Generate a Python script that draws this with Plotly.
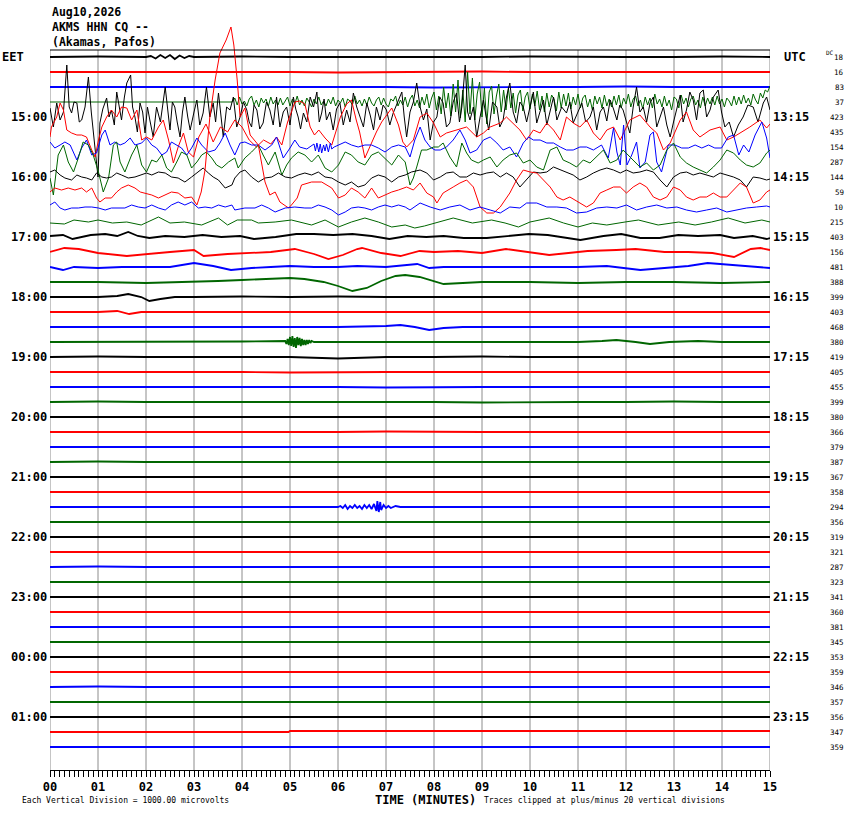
import plotly.graph_objects as go

# ---------------- data ----------------
MINUTES = list(range(16))
TICK_TEXT = ["%02d" % m for m in MINUTES]
TRACE_COLORS = ["#000000", "#ff0000", "#0000ff", "#006600"]
UNITS_PER_SPACING = 15.0   # amplitude units per trace spacing

TITLE_LINES = ["Aug10,2026", "AKMS HHN CQ --", "(Akamas, Pafos)"]
LEFT_ZONE = "EET"
RIGHT_ZONE = "UTC"
LABEL_ROWS = [4, 8, 12, 16, 20, 24, 28, 32, 36, 40, 44]
LEFT_LABELS = ["15:00", "16:00", "17:00", "18:00", "19:00", "20:00", "21:00", "22:00", "23:00", "00:00", "01:00"]
RIGHT_LABELS = ["13:15", "14:15", "15:15", "16:15", "17:15", "18:15", "19:15", "20:15", "21:15", "22:15", "23:15"]
DC_VALUES = [18, 16, 83, 37, 423, 435, 154, 287, 144, 59, 10, 215, 403, 156, 481, 388,
             399, 403, 468, 380, 419, 405, 455, 399, 380, 366, 379, 387, 367, 358, 294, 356,
             319, 321, 287, 323, 341, 360, 381, 345, 353, 359, 346, 357, 356, 347, 359]
ACTIVE_ROWS = [3, 4, 5, 6, 7, 8, 9, 10, 11]

# (minute, amplitude) readings per helicorder line
ROW_00 = [(0, 0), (1, 0.5), (2, 0), (2.1, 1), (2.2, -1.5), (2.3, 2), (2.4, -1), (2.5, 2), (2.6, -2),
          (2.7, 1.5), (2.8, -1), (2.9, 1), (3, 0), (4, 0.5), (5, 0), (6, 0), (7, -0.5), (8, 0),
          (9, 0), (10, 0.5), (11, 0), (12, 0), (13, 0), (14, 0.5), (15, 0)]
ROW_01 = list(zip(MINUTES, [0, 0, 0.5, 0, 0, 0, -0.5, 0, 0, 0.5, 0, 0, 0, 0, 0.5, 0]))
ROW_02 = list(zip(MINUTES, [0, 0, 0, 0.5, 0, 0, 0, 0, -0.5, 0, 0, 0, 0.5, 0, 0, 0]))
# green line 3: quiet part, then noisy part sampled every 0.05 min from 3.80
ROW_03_QUIET = [(0, 0), (1, 0), (2, 0.5), (3, 0), (3.5, 0)]
ROW_03_START, ROW_03_STEP = 3.8, 0.05
ROW_03_NOISE = [0, 4, -3, 5, -2, 1, -4, 3, 6, -3, 2, -5, 4, -1, 3, -4, 5, -2, 2, -3,
                4, -3, 1, 5, -4, 3, -2, 6, -3, 2, -4, 4, 0, -5, 3, -2, 5, -3, 1, -4,
                3, -2, 5, -4, 2, -1, 4, -5, 3, 1, -3, 6, -2, 2, -4, 3, -3, 5, -1, -4,
                2, 5, -3, 4, -2, -5, 3, 1, 6, -4, 2, -3, 5, -5, 3, 7, -4, 2, -6, 5,
                -3, 8, -6, 4, 10, -8, 6, -12, 15, -6, 9, -14, 18, -10, 22, -16, 12, -20, 30, -12,
                24, -18, 8, 20, -15, 14, -22, 10, 16, -12, 6, 18, -10, 12, -8, 14, -6, 9, -11, 7,
                12, -9, 5, 10, -7, 8, -4, 11, -8, 6, -10, 9, -5, 7, 3, -9, 10, -6, 8, -4,
                9, -7, 5, -3, 8, -6, 4, 7, -5, 3, -8, 6, -2, 5, -6, 7, -4, 3, -5, 6,
                -3, 7, -6, 4, -2, 8, -5, 3, 6, -4, 2, -7, 5, -3, 4, -6, 8, -2, 3, -5,
                6, -4, 2, -8, 5, 3, -6, 7, -2, 4, -5, 3, 6, -3, 2, -6, 5, -4, 4, -2,
                5, -3, 6, -2, 3, -5, 4, 1, -4, 6, -3, 5, -2, 7, -1, 4, -3, 8, 2, -2,
                9, 4, 12, 10, 16]
ROW_03 = ROW_03_QUIET + [(ROW_03_START + k * ROW_03_STEP, v) for k, v in enumerate(ROW_03_NOISE)]
ROW_04 = [(0.0, 9), (0.07, -10), (0.14, 14), (0.21, -3), (0.28, 5), (0.35, 52), (0.4, 10), (0.45, 4),
          (0.5, 15), (0.56, 14), (0.61, -5), (0.66, -3), (0.73, 10), (0.8, 40), (0.86, 5), (0.9, -13),
          (0.95, -35), (1.0, -60), (1.04, -6), (1.1, 8), (1.18, 19), (1.23, 0), (1.28, 7), (1.34, -8),
          (1.39, 25), (1.44, 10), (1.49, -3), (1.55, 20), (1.6, 34), (1.68, 42), (1.72, 10), (1.77, 0),
          (1.82, -15), (1.875, 14), (1.93, 5), (1.98, -16), (2.03, 10), (2.08, -3), (2.15, -20),
          (2.22, 10), (2.3, -5), (2.4, 30), (2.45, 8), (2.5, -13), (2.55, 15), (2.6, 10), (2.65, -5),
          (2.71, -20), (2.76, 5), (2.81, 20), (2.87, 0), (2.92, -13), (3.0, 5), (3.06, 17), (3.12, -8),
          (3.19, 4), (3.26, 30), (3.33, 0), (3.4, 14), (3.45, -5), (3.51, 24), (3.56, 0), (3.61, -20),
          (3.68, 10), (3.75, 7), (3.82, 20), (3.89, -10), (3.96, 0), (4.03, 15), (4.1, 7), (4.15, -5),
          (4.2, -10), (4.25, 12), (4.31, 7), (4.37, -12), (4.44, -6), (4.51, 15), (4.58, 7), (4.65, -8),
          (4.72, 20), (4.79, -10), (4.86, 5), (4.93, 10), (5.0, -8), (5.07, 20), (5.12, 8), (5.17, 0),
          (5.22, -12), (5.28, 4), (5.35, -5), (5.42, 20), (5.49, 10), (5.56, 25), (5.61, -5), (5.66, 4),
          (5.71, 18), (5.76, -3), (5.83, 5), (5.9, -13), (5.97, 8), (6.04, 14), (6.11, -8), (6.18, 7),
          (6.25, -5), (6.32, 24), (6.39, 10), (6.46, 0), (6.53, -10), (6.6, 14), (6.67, 2), (6.74, -13),
          (6.8, 10), (6.875, -3), (6.94, 12), (7.01, 7), (7.08, -8), (7.15, 4), (7.24, 15), (7.33, 25),
          (7.38, 0), (7.43, -20), (7.5, 5), (7.57, 15), (7.64, 34), (7.71, 10), (7.78, -3), (7.85, 8),
          (7.92, -23), (7.99, -5), (8.06, 0), (8.12, 20), (8.19, 14), (8.26, -10), (8.33, -6), (8.4, 15),
          (8.47, 24), (8.53, -5), (8.58, 10), (8.65, 52), (8.7, 5), (8.75, -3), (8.82, 10), (8.89, -20),
          (8.96, 0), (9.03, 17), (9.08, 2), (9.14, -13), (9.22, 15), (9.31, 10), (9.37, -10), (9.44, -3),
          (9.51, 20), (9.58, 34), (9.65, 5), (9.72, -6), (9.79, 15), (9.86, 10), (9.93, -5), (10.0, 10),
          (10.07, 25), (10.14, -6), (10.21, 5), (10.28, 17), (10.35, -8), (10.42, 7), (10.49, 20),
          (10.56, -3), (10.66, 10), (10.76, 4), (10.83, 15), (10.9, -6), (10.99, 5), (11.08, 14),
          (11.16, -5), (11.25, 0), (11.32, 10), (11.39, -13), (11.46, 5), (11.53, 10), (11.6, -4),
          (11.67, 17), (11.74, 8), (11.81, -3), (11.87, 12), (11.94, 7), (12.01, -5), (12.08, -16),
          (12.15, 10), (12.22, 30), (12.29, 5), (12.36, 10), (12.43, -5), (12.5, 14), (12.57, 20),
          (12.64, -10), (12.71, 0), (12.78, 10), (12.85, -8), (12.92, -20), (12.99, -5), (13.06, 10),
          (13.13, 22), (13.19, -5), (13.26, 7), (13.33, 25), (13.4, 17), (13.47, -3), (13.54, 24),
          (13.61, 27), (13.68, 0), (13.75, 7), (13.82, 20), (13.92, 27), (13.99, 5), (14.06, -10),
          (14.15, -5), (14.24, -20), (14.34, -8), (14.44, 0), (14.54, 12), (14.65, 10), (14.75, -5),
          (14.86, 14), (14.93, 20), (15.0, 7)]
ROW_05 = [(0.0, -5), (0.03, 5), (0.14, 15), (0.21, 29), (0.28, 22), (0.35, 2), (0.45, -1), (0.56, -3),
          (0.66, -3), (0.76, -5), (0.87, -18), (0.94, -25), (1.01, -8), (1.08, 5), (1.18, 15), (1.28, 22),
          (1.39, 15), (1.49, 25), (1.6, 24), (1.7, 12), (1.81, 22), (1.91, -8), (2.01, -5), (2.12, -8),
          (2.26, 5), (2.36, 12), (2.47, -8), (2.57, -31), (2.67, -15), (2.78, -1), (2.88, -20),
          (2.99, -25), (3.1, -5), (3.25, 8), (3.4, -10), (3.55, 5), (3.7, 0), (3.85, 12), (4.0, 5),
          (4.15, -8), (4.3, -15), (4.45, -8), (4.6, -12), (4.72, -5), (4.83, -13), (4.95, 10), (5.03, 20),
          (5.1, 30), (5.2, 31), (5.31, 28), (5.42, 5), (5.51, -3), (5.6, 2), (5.73, -6), (5.87, -13),
          (5.95, 0), (6.05, 15), (6.18, 28), (6.28, 32), (6.38, 12), (6.45, 0), (6.56, -26), (6.7, -10),
          (6.8, 0), (6.91, 10), (7.02, 18), (7.12, 24), (7.26, 7), (7.35, -10), (7.43, -15), (7.57, -8),
          (7.71, 15), (7.85, 19), (7.99, 9), (8.13, -5), (8.26, -1), (8.47, 2), (8.68, 5), (8.89, -5),
          (9.03, -1), (9.17, 5), (9.38, 9), (9.51, 15), (9.65, 9), (9.79, 2), (9.93, -8), (10.07, 2),
          (10.21, -1), (10.35, 9), (10.49, 2), (10.63, -8), (10.76, 15), (10.9, 9), (11.04, 5),
          (11.18, 12), (11.32, -1), (11.46, -8), (11.6, 2), (11.74, 5), (11.88, -8), (12.08, 12),
          (12.29, 17), (12.5, 5), (12.64, -1), (12.78, -18), (12.92, -11), (13.13, 12), (13.26, 20),
          (13.4, 2), (13.54, -5), (13.75, 2), (13.96, 5), (14.1, -8), (14.24, -5), (14.38, -1),
          (14.58, 5), (14.79, 12), (14.93, 4), (15.0, 8)]
ROW_06 = [(0.0, 5), (0.1, -1), (0.21, 2), (0.31, 5), (0.42, 2), (0.56, -13), (0.66, -1), (0.76, 7),
          (0.87, -8), (0.97, -6), (1.08, 12), (1.15, 17), (1.25, 2), (1.35, 5), (1.46, 2), (1.56, 4),
          (1.67, 9), (1.77, 2), (1.91, 4), (2.01, 9), (2.12, 2), (2.22, -1), (2.33, -8), (2.43, -5),
          (2.53, 5), (2.64, 2), (2.74, -1), (2.85, -8), (2.95, -1), (3.06, 9), (3.16, 2), (3.3, -5),
          (3.44, -3), (3.54, 4), (3.65, 14), (3.75, 2), (3.85, -8), (3.96, 4), (4.06, 5), (4.2, 2),
          (4.34, 2), (4.48, -3), (4.62, 2), (4.72, 10), (4.86, -11), (5.0, -1), (5.1, 7), (5.2, 0),
          (5.35, -2), (5.5, 3), (5.53, -4), (5.56, 4), (5.6, -5), (5.63, 3), (5.66, -6), (5.7, 2),
          (5.73, -4), (5.76, 3), (5.8, -5), (5.84, 4), (5.87, -2), (5.92, 0), (6.01, 2), (6.15, 5),
          (6.28, 2), (6.42, 0), (6.56, 2), (6.7, 2), (6.84, -1), (6.98, -5), (7.12, 0), (7.26, 2),
          (7.4, 0), (7.5, -10), (7.6, 7), (7.71, 20), (7.81, 7), (7.92, 0), (8.02, -3), (8.13, -3),
          (8.26, 0), (8.4, 7), (8.54, 17), (8.65, 7), (8.75, -6), (8.89, -3), (9.03, 7), (9.17, 10),
          (9.31, 4), (9.44, -3), (9.58, 0), (9.72, -10), (9.86, 4), (9.97, 10), (10.07, 7), (10.21, 7),
          (10.35, 4), (10.49, 4), (10.63, 0), (10.76, -3), (10.9, -3), (11.04, 0), (11.18, 0),
          (11.32, -3), (11.49, 2), (11.63, -11), (11.74, 19), (11.81, -5), (11.88, -18), (11.95, 22),
          (12.02, -18), (12.12, -8), (12.22, 5), (12.29, -21), (12.4, -15), (12.5, 12), (12.57, 15),
          (12.64, -15), (12.74, -25), (12.88, 2), (13.02, 2), (13.16, -1), (13.3, -1), (13.44, 2),
          (13.58, -1), (13.72, 2), (13.85, -1), (13.99, -1), (14.13, 10), (14.24, 12), (14.35, -8),
          (14.45, 2), (14.56, -5), (14.69, 12), (14.83, 25), (14.93, 9), (15.0, -11)]
ROW_07 = [(0.0, -16), (0.07, -33), (0.17, 7), (0.28, 17), (0.38, 0), (0.49, -10), (0.59, 4), (0.69, 20),
          (0.8, 17), (0.9, 7), (1.01, -10), (1.11, -30), (1.22, -16), (1.32, 17), (1.39, 20), (1.46, 0),
          (1.56, -10), (1.7, 7), (1.81, 17), (1.91, -3), (2.01, -10), (2.12, 2), (2.22, 0), (2.33, 7),
          (2.43, -6), (2.53, -10), (2.64, 0), (2.74, 10), (2.85, 7), (2.95, -6), (3.06, 0), (3.16, 7),
          (3.26, 10), (3.37, 4), (3.47, -3), (3.58, -6), (3.72, 0), (3.85, 4), (3.92, -6), (4.06, 4),
          (4.2, 10), (4.34, 17), (4.44, 7), (4.55, -3), (4.69, 10), (4.83, -13), (4.93, -3), (5.03, 4),
          (5.17, 10), (5.31, 7), (5.45, 0), (5.59, 7), (5.73, -6), (5.87, -10), (6.01, -3), (6.15, 10),
          (6.28, 7), (6.42, 0), (6.56, -3), (6.7, 7), (6.84, 10), (6.98, 4), (7.12, -3), (7.26, 7),
          (7.4, 0), (7.5, -23), (7.57, -16), (7.64, -5), (7.74, 12), (7.85, 12), (7.99, 15), (8.09, 15),
          (8.19, 19), (8.33, 5), (8.47, -5), (8.58, 19), (8.68, 9), (8.78, 2), (8.92, -1), (9.03, 2),
          (9.17, 5), (9.31, -5), (9.44, 2), (9.58, 7), (9.72, 9), (9.86, -1), (10.0, 2), (10.14, -5),
          (10.28, -8), (10.42, 12), (10.56, 15), (10.69, 2), (10.83, -1), (10.97, -5), (11.11, 2),
          (11.25, -1), (11.39, 5), (11.53, 12), (11.67, -1), (11.81, 2), (11.94, 12), (12.15, 2),
          (12.29, -5), (12.43, -1), (12.57, -8), (12.71, -3), (12.85, 12), (12.99, 19), (13.13, 5),
          (13.26, -1), (13.4, -5), (13.54, -8), (13.68, -11), (13.82, -5), (13.96, 2), (14.1, 12),
          (14.24, 9), (14.38, 2), (14.51, -3), (14.65, -5), (14.79, -1), (14.93, 9), (15.0, 12)]
ROW_08 = [(0, 5), (0.1, 7), (0.21, 2), (0.31, -1), (0.45, -3), (0.56, 2), (0.66, 0), (0.76, -1),
          (0.87, -3), (0.97, 4), (1.08, 0), (1.18, -1), (1.28, 0), (1.39, 4), (1.49, 2), (1.63, -1),
          (1.77, 0), (1.91, 2), (2.01, 4), (2.12, 2), (2.26, 5), (2.4, 4), (2.53, 0), (2.67, -1),
          (2.81, -5), (2.95, 0), (3.09, 5), (3.19, 9), (3.3, 4), (3.4, 0), (3.51, -3), (3.65, -11),
          (3.79, -8), (3.85, -1), (3.96, 5), (4.06, 7), (4.2, 0), (4.34, -5), (4.48, -1), (4.62, 0),
          (4.76, 4), (4.9, 0), (5.03, -1), (5.17, 2), (5.31, 4), (5.45, 2), (5.59, 5), (5.73, 0),
          (5.87, -1), (6.01, -5), (6.15, -8), (6.28, -5), (6.42, -10), (6.56, -8), (6.7, -1), (6.84, 2),
          (6.98, 0), (7.12, -5), (7.26, 0), (7.4, 2), (7.53, 5), (7.71, 7), (7.85, 4), (7.99, -3),
          (8.13, 0), (8.26, 4), (8.4, 5), (8.54, 0), (8.68, 0), (8.82, 4), (8.96, 2), (9.1, 4),
          (9.24, 5), (9.38, 0), (9.51, 4), (9.65, 0), (9.79, -10), (9.93, -3), (10.07, 5), (10.21, 4),
          (10.35, 5), (10.49, 10), (10.63, 7), (10.76, 5), (10.9, 2), (11.04, -3), (11.18, 0),
          (11.32, 4), (11.46, 7), (11.6, 9), (11.74, 7), (11.88, 4), (12.01, 7), (12.15, 4), (12.29, 5),
          (12.43, 7), (12.57, 5), (12.71, -3), (12.85, -10), (12.99, 0), (13.13, 4), (13.26, 5),
          (13.4, 2), (13.54, 4), (13.68, 2), (13.82, 0), (13.96, 4), (14.1, 2), (14.24, 0), (14.38, -3),
          (14.51, -10), (14.65, 0), (14.79, -1), (14.93, -3), (15.0, -2)]
ROW_09 = [(0, 0), (0.1, 4), (0.24, 2), (0.38, 4), (0.52, 2), (0.66, 4), (0.76, 0), (0.87, 4),
          (0.97, -6), (1.04, -10), (1.15, -6), (1.28, -6), (1.39, 0), (1.49, 4), (1.63, 7), (1.77, 4),
          (1.88, 0), (1.98, -1), (2.12, -3), (2.26, -6), (2.4, -3), (2.53, 0), (2.67, -1), (2.81, -6),
          (2.95, -5), (3.02, -10), (3.06, -13), (3.15, 0), (3.23, 22), (3.33, 75), (3.44, 112),
          (3.54, 139), (3.67, 152), (3.77, 165), (3.83, 147), (3.9, 112), (3.96, 75), (4.06, 84),
          (4.17, 57), (4.34, 47), (4.48, 10), (4.58, -3), (4.69, 0), (4.79, -10), (4.97, -16),
          (5.03, -13), (5.15, -6), (5.24, 7), (5.45, 10), (5.66, 10), (5.87, 4), (6.01, -6), (6.15, -3),
          (6.28, 4), (6.42, 0), (6.56, -6), (6.7, 4), (6.84, -6), (6.98, -3), (7.12, 0), (7.26, 2),
          (7.43, 5), (7.57, 2), (7.71, 9), (7.85, -1), (7.99, -5), (8.06, -11), (8.19, -1), (8.4, 5),
          (8.54, 9), (8.68, 12), (8.82, 5), (8.96, -15), (9.1, -21), (9.24, -21), (9.38, -15),
          (9.58, -1), (9.72, 12), (9.86, 22), (10.0, 20), (10.14, 19), (10.28, 12), (10.42, 5),
          (10.56, -5), (10.69, -8), (10.83, -5), (11.04, -11), (11.18, -15), (11.32, -11), (11.46, -1),
          (11.6, 2), (11.74, 5), (11.88, 5), (12.01, -1), (12.15, 5), (12.29, 9), (12.43, 5),
          (12.57, -5), (12.71, -8), (12.85, -5), (12.99, 5), (13.13, 2), (13.26, -5), (13.4, -8),
          (13.54, -5), (13.68, -5), (13.82, -1), (13.96, -5), (14.1, -5), (14.24, 2), (14.38, 9),
          (14.51, 5), (14.65, -11), (14.79, -8), (14.93, 0), (15.0, 2)]
ROW_10 = [(0, 2), (0.1, 5), (0.21, -1), (0.31, -3), (0.45, -1), (0.59, -1), (0.73, 0), (0.87, 0),
          (1.01, -1), (1.15, -3), (1.28, -1), (1.42, -1), (1.56, -1), (1.7, 2), (1.84, 0), (1.98, -1),
          (2.12, 2), (2.26, -1), (2.4, -3), (2.53, 2), (2.67, 5), (2.81, 2), (2.95, 5), (3.09, -1),
          (3.23, 0), (3.37, -1), (3.51, 2), (3.65, 0), (3.79, 2), (3.85, -3), (4.06, -1), (4.27, -1),
          (4.41, 2), (4.55, -1), (4.69, -5), (4.9, -1), (5.1, 0), (5.31, -1), (5.45, -1), (5.59, 2),
          (5.73, 0), (5.87, -3), (6.01, -8), (6.15, -5), (6.28, -1), (6.42, 0), (6.56, -1), (6.7, -3),
          (6.84, 0), (6.98, 2), (7.12, 0), (7.26, 2), (7.4, 0), (7.5, -3), (7.71, 4), (7.92, 0),
          (8.13, -3), (8.33, 0), (8.54, 2), (8.75, -3), (8.96, 0), (9.17, -3), (9.38, -6), (9.58, 0),
          (9.79, -1), (9.93, 4), (10.14, 4), (10.35, 0), (10.56, 0), (10.76, -1), (10.97, -6),
          (11.18, -5), (11.39, -1), (11.6, 0), (11.81, -1), (12.01, 2), (12.22, -3), (12.43, 0),
          (12.64, 2), (12.85, -1), (13.06, 0), (13.26, -3), (13.47, -5), (13.68, -3), (13.89, -1),
          (14.1, -5), (14.31, -3), (14.51, -1), (14.72, 0), (14.93, 1), (15.0, 0)]
ROW_11 = [(0, -1), (0.3, -2), (0.5, 2), (0.8, 0), (1.0, 2), (1.3, -1), (1.6, 0), (1.9, -3), (2.26, 5),
          (2.5, -1), (2.8, 0), (3.16, -3), (3.51, 4), (3.7, -3), (3.9, 2), (4.2, 2), (4.34, -1),
          (4.69, 0), (5.03, 2), (5.45, -3), (5.73, 2), (6.01, -5), (6.28, 0), (6.56, 4), (6.84, 0),
          (7.12, -5), (7.4, -3), (7.6, -6), (7.8, -4), (8.1, 0), (8.4, 4), (8.8, -1), (9.2, 2),
          (9.48, -1), (9.76, -5), (10.0, 0), (10.4, 4), (10.7, -1), (11.0, -5), (11.3, -1), (11.6, -3),
          (11.98, 0), (12.26, 2), (12.67, -3), (13.1, 0), (13.44, -3), (13.78, 0), (14.13, 4),
          (14.48, -1), (14.83, 2), (15.0, 0)]
ROW_12 = [(0, 1), (0.27, 2), (0.47, -2), (0.85, 2), (1.15, 3), (1.4, 1), (1.63, 5), (1.83, 1),
          (2.07, -1), (2.4, 1), (2.8, 0), (3.18, 2), (3.57, 0), (3.96, 1), (4.25, -2), (4.7, 0),
          (5.13, 3), (5.5, 3), (5.9, 2), (6.3, 3), (6.7, 1), (7.07, -2), (7.45, 1), (7.84, 0), (8.2, 1),
          (8.62, -1), (9.1, -1), (9.6, 1), (9.98, 3), (10.37, 2), (11.05, -3), (11.53, 1), (11.9, 3),
          (12.3, -1), (12.7, -1), (13.09, 2), (13.5, 1), (13.96, 2), (14.25, -1), (14.64, 1),
          (14.93, -2), (15.0, -1)]
ROW_13 = [(0, 0), (0.3, 4), (0.6, 3), (1.0, -1), (1.6, -4), (2.0, -2), (2.5, 0), (3.0, 2), (3.2, -4),
          (3.7, -2), (4.2, -1), (4.6, 0), (5.1, 3), (5.5, -2), (5.8, -7), (6.1, -3), (6.4, 3), (6.5, 4),
          (6.9, -1), (7.3, -4), (7.7, 1), (8.0, 0), (8.5, 1), (9.0, -1), (9.5, 3), (10.0, 0),
          (10.4, -3), (10.8, -1), (11.2, 1), (11.8, 2), (12.2, 3), (12.8, 0), (13.3, 0), (13.8, -1),
          (14.25, -5), (14.6, 3), (14.8, 4), (15.0, 2)]
ROW_14 = [(0, 0), (0.27, -3), (0.5, 0), (1.0, -1), (1.5, 0), (2.0, 0), (2.5, 0), (3.0, 4), (3.4, 1),
          (3.77, -3), (4.2, -1), (4.6, 0), (5.0, 1), (5.5, 0), (6.0, 0), (6.4, 1), (7.0, 0), (7.65, 3),
          (7.9, -1), (8.2, 0), (9.0, 0), (10.0, 0), (11.0, 0), (11.6, 1), (12.0, -1), (12.3, -3),
          (12.8, -1), (13.3, 1), (13.7, 4), (14.0, 3), (14.4, 1), (15.0, -1)]
ROW_15 = [(0, 0), (1, 0), (2, -1), (3, 0), (3.5, 1), (4.0, 2), (4.5, 3), (5.0, 4), (5.3, 3), (5.7, 0),
          (6.0, -4), (6.3, -9), (6.6, -6), (6.9, 1), (7.2, 6), (7.4, 7), (7.7, 5), (8.0, 1), (8.2, -2),
          (8.6, -1), (9, 0), (10, 0), (11, -1), (12, 0), (13, 0), (14, -1), (15, 0)]
ROW_16 = [(0, 0), (1.0, 0), (1.4, 1), (1.63, 3), (1.9, 0), (2.07, -4), (2.3, -2), (2.6, 0), (3, 0),
          (4, 0.5), (5, 0), (6, 0.5), (7, 0), (8, 0), (9, 0.5), (10, 0), (11, 0), (12, 0), (13, 0.5),
          (14, 0), (15, 0)]
ROW_17 = [(0, 0), (1.0, 0), (1.4, 1), (1.65, -2), (1.9, 0), (3, 0), (4, 0), (5, 0.5), (6, 0), (7, 0),
          (8, 0), (9, 0), (10, 0.5), (11, 0), (12, 0), (13, 0), (14, 0), (15, 0)]
ROW_18 = [(0, 0), (1, 0), (2, 0.5), (3, 0), (4, 0), (5, 0), (6, 0), (7.0, 1), (7.3, 2), (7.6, 0),
          (7.9, -3), (8.2, -1), (8.6, 0), (9, 0), (10, 0), (11, 0.5), (12, 0), (13, 0.5), (14, 0),
          (15, 0)]
ROW_19 = [(0, 0), (1, 0), (2, 0), (3, 0), (4, 0.5), (4.9, 1), (4.925, -2), (4.95, 3), (4.975, -3),
          (5.0, 5), (5.025, -4), (5.05, 6), (5.075, -5), (5.1, 4), (5.125, -6), (5.15, 5), (5.175, -3),
          (5.2, 4), (5.225, -4), (5.25, 3), (5.275, -3), (5.3, 2), (5.325, -3), (5.35, 2), (5.375, -2),
          (5.4, 2), (5.425, -1), (5.45, 1), (5.5, 0), (6, 0), (7, 0), (8, 0), (9, 0), (10, 0),
          (11, 0), (11.5, 1), (11.8, 2), (12.2, 0), (12.5, -2), (12.9, 0), (13.5, 1), (14, 0), (15, 0)]
ROW_20 = list(zip(MINUTES, [0, 0.5, 0, 0, -0.5, 0, -1.5, 0, 0, 0.5, 0, 0, 0, 0, 0.5, 0]))
ROW_21 = list(zip(MINUTES, [0, 0, 0.5, 0, 0, -0.5, 0, 0, 0, 0, 0.5, 0, 0, 0, 0, 0]))
ROW_22 = list(zip(MINUTES, [0, 0, 0, 0.5, 0, 0, 0, -0.5, 0, 0, 0, 0, 0.5, 0, 0, 0]))
ROW_23 = list(zip(MINUTES, [0, 0.5, 0, 0, 0, 0, 0.5, 0, 0, -0.5, 0, 0, 0, 0.5, 0, 0]))
ROW_24 = list(zip(MINUTES, [0, 0, 0, 0, 0.5, 0, 0, 0, 0, 0, 0, 0.5, 0, 0, 0, 0]))
ROW_25 = list(zip(MINUTES, [0, 0, -0.5, 0, 0, 0, 0, 0.5, 0, 0, 0, 0, 0, -0.5, 0, 0]))
ROW_26 = list(zip(MINUTES, [0, 0, 0, 0, 0, 0.5, 0, 0, 0, 0, 0.5, 0, 0, 0, 0, 0]))
ROW_27 = list(zip(MINUTES, [0, 0.5, 0, 0, 0, 0, 0, 0, 0.5, 0, 0, 0, 0, 0, 0.5, 0]))
ROW_28 = list(zip(MINUTES, [0, 0, 0, 0.5, 0, 0, 0, 0, 0, 0, 0, 0, 0.5, 0, 0, 0]))
ROW_29 = list(zip(MINUTES, [0, 0, 0, 0, 0, 0, 0.5, 0, 0, 0, 0, 0, 0, 0, 0, 0]))
ROW_30 = [(0, 0), (1, 0), (2, 0), (3, 0.5), (4, 0), (5, 0), (6.0, 0), (6.05, 1), (6.1, -1), (6.15, 2),
          (6.2, -2), (6.25, 1), (6.3, -1), (6.35, 2), (6.4, -1), (6.45, 1), (6.5, -2), (6.55, 2),
          (6.6, -1), (6.65, 2), (6.7, -2), (6.75, 3), (6.8, -4), (6.82, 6), (6.85, -5), (6.88, 5),
          (6.9, -3), (6.95, 2), (7.0, -1), (7.05, 1), (7.1, -1), (7.2, 1), (7.3, 0), (8, 0), (9, 0),
          (10, 0.5), (11, 0), (12, 0), (13, 0), (14, 0), (15, 0)]
ROW_31 = list(zip(MINUTES, [0, 0, 0, 0, 0.5, 0, 0, 0, 0, 0, 0, 0, 0, 0.5, 0, 0]))
ROW_32 = list(zip(MINUTES, [0, 0, 0.5, 0, 0, 0, 0, 0, 0, 0.5, 0, 0, 0, 0, 0, 0]))
ROW_33 = list(zip(MINUTES, [0, 0, 0, 0, 0, 0, 0, 0.5, 0, 0, 0, 0, 0, 0, 0, 0]))
ROW_34 = list(zip(MINUTES, [0, 0.5, 0, 0, 0, 0, 0, 0, 0, 0, 0, 0.5, 0, 0, 0, 0]))
ROW_35 = list(zip(MINUTES, [0, 0, 0, 0, 0, 0.5, 0, 0, 0, 0, 0, 0, 0, 0, 0, 0]))
ROW_36 = list(zip(MINUTES, [0, 0, 0, 0.5, 0, 0, 0, 0, 0, 0, 0, 0, 0, 0, 0.5, 0]))
ROW_37 = list(zip(MINUTES, [0, 0, 0, 0, 0, 0, 0, 0, 0.5, 0, 0, 0, 0, 0, 0, 0]))
ROW_38 = list(zip(MINUTES, [0, 0, 0, 0, 0, 0, 0.5, 0, 0, 0, 0, 0, 0, 0, 0, 0]))
ROW_39 = list(zip(MINUTES, [0, 0, 0.5, 0, 0, 0, 0, 0, 0, 0, 0.5, 0, 0, 0, 0, 0]))
ROW_40 = list(zip(MINUTES, [0, 0, 0, 0, 0.5, 0, 0, 0, 0, 0, 0, 0, 0, 0, 0, 0]))
ROW_41 = list(zip(MINUTES, [0, 0, 0, 0, 0, 0, 0, 0.5, 0, 0, 0, 0, 0, 0, 0, 0]))
ROW_42 = list(zip(MINUTES, [0, 0.5, 0, 0, 0, 0, 0, 0, 0, 0, 0, 0, 0.5, 0, 0, 0]))
ROW_43 = list(zip(MINUTES, [0, 0, 0, 0, 0, 0, 0, 0, 0, 0.5, 0, 0, 0, 0, 0, 0]))
ROW_44 = list(zip(MINUTES, [0, 0, 0, 0.5, 0, 0, 0, 0, 0, 0, 0, 0, 0, 0, 0, 0]))
ROW_45 = [(0, 0), (1, 0), (2, 0), (3, 0), (4, 0), (4.97, 0), (5.0, 1), (6, 1), (7, 1), (8, 1), (9, 1),
          (10, 1), (11, 1), (12, 1), (13, 1), (14, 1), (15, 1)]
ROW_46 = list(zip(MINUTES, [0, 0, 0, 0, 0, 0, 0.5, 0, 0, 0, 0, 0, 0, 0, 0, 0]))

ROWS = [ROW_00, ROW_01, ROW_02, ROW_03, ROW_04, ROW_05, ROW_06, ROW_07, ROW_08, ROW_09,
        ROW_10, ROW_11, ROW_12, ROW_13, ROW_14, ROW_15, ROW_16, ROW_17, ROW_18, ROW_19,
        ROW_20, ROW_21, ROW_22, ROW_23, ROW_24, ROW_25, ROW_26, ROW_27, ROW_28, ROW_29,
        ROW_30, ROW_31, ROW_32, ROW_33, ROW_34, ROW_35, ROW_36, ROW_37, ROW_38, ROW_39,
        ROW_40, ROW_41, ROW_42, ROW_43, ROW_44, ROW_45, ROW_46]

# ---------------- figure ----------------
W, H = 850, 814
ML, MR, MT, MB = 50, 80, 20, 44
PLOT_W = W - ML - MR          # 720
PLOT_H = H - MT - MB          # 750
ROW_PX = 15.0
Y_TOP = (57 - MT) / ROW_PX     # data value at the top of plot area (row 0 at y=0)
Y_BOT = Y_TOP - PLOT_H / ROW_PX
FRAME_TOP = (57 - 50) / ROW_PX

fig = go.Figure()
for i, row in enumerate(ROWS):
    xs = [p[0] for p in row]
    ys = [-i + p[1] / UNITS_PER_SPACING for p in row]
    fig.add_trace(go.Scatter(
        x=xs, y=ys, mode="lines",
        line=dict(color=TRACE_COLORS[i % 4], width=1.0 if i in ACTIVE_ROWS else 1.8),
        hoverinfo="skip", showlegend=False))

shapes = []
for m in MINUTES:
    shapes.append(dict(type="line", xref="x", yref="y", x0=m, x1=m, y0=FRAME_TOP, y1=Y_BOT,
                       line=dict(color="#8c8c8c", width=1), layer="below"))
shapes.append(dict(type="line", xref="x", yref="y", x0=MINUTES[0], x1=MINUTES[-1],
                   y0=FRAME_TOP, y1=FRAME_TOP, line=dict(color="#000000", width=1.2)))

BIG = dict(family="DejaVu Sans Mono", size=12, color="#000000", weight="bold")
SMALL = dict(family="DejaVu Sans Mono", size=8, color="#000000")


def px_to_paper(px, py):
    return (px - ML) / PLOT_W, (H - MB - py) / PLOT_H


ann = []
for k, line in enumerate(TITLE_LINES):
    x_, y_ = px_to_paper(ML, 57 - ROW_PX * (len(TITLE_LINES) - k))
    ann.append(dict(x=x_, y=y_, xref="paper", yref="paper", text=line, showarrow=False,
                    xanchor="left", yanchor="middle", font=dict(BIG, size=11.5)))
ann.append(dict(x=0, y=0, xref="x", yref="y", text=LEFT_ZONE, showarrow=False, xanchor="left",
                xshift=-ML, yanchor="middle", font=BIG))
ann.append(dict(x=15, y=0, xref="x", yref="y", text=RIGHT_ZONE, showarrow=False, xanchor="left",
                xshift=12, yanchor="middle", font=BIG))
for r, lt, rt in zip(LABEL_ROWS, LEFT_LABELS, RIGHT_LABELS):
    ann.append(dict(x=0, y=-r, xref="x", yref="y", text=lt, showarrow=False, xanchor="right",
                    xshift=-1, yanchor="middle", font=BIG))
    ann.append(dict(x=15, y=-r, xref="x", yref="y", text=rt, showarrow=False, xanchor="left",
                    xshift=1, yanchor="middle", font=BIG))
for i, dc in enumerate(DC_VALUES):
    ann.append(dict(x=15, y=-i, xref="x", yref="y", text=str(dc), showarrow=False, xanchor="right",
                    xshift=76, yanchor="middle", font=dict(SMALL, size=7.5)))
ann.append(dict(x=15, y=0, xref="x", yref="y", text="DC", showarrow=False, xanchor="right",
                xshift=66, yshift=5, yanchor="middle", font=dict(SMALL, size=6)))

x_, y_ = px_to_paper(20, 800)
ann.append(dict(x=x_, y=y_, xref="paper", yref="paper", text="Each Vertical Division = 1000.00 microvolts",
                showarrow=False, xanchor="left", yanchor="middle", font=SMALL))
x_, y_ = px_to_paper(425, 800)
ann.append(dict(x=x_, y=y_, xref="paper", yref="paper", text="TIME (MINUTES)", showarrow=False,
                xanchor="center", yanchor="middle", font=BIG))
x_, y_ = px_to_paper(482, 800)
ann.append(dict(x=x_, y=y_, xref="paper", yref="paper",
                text="Traces clipped at plus/minus 20 vertical divisions", showarrow=False,
                xanchor="left", yanchor="middle", font=SMALL))

fig.update_layout(
    width=W, height=H, margin=dict(l=ML, r=MR, t=MT, b=MB),
    paper_bgcolor="white", plot_bgcolor="white",
    shapes=shapes, annotations=ann,
    xaxis=dict(range=[MINUTES[0], MINUTES[-1]], showgrid=False, zeroline=False,
               showline=True, linecolor="#000000", linewidth=1,
               tickmode="array", tickvals=MINUTES, ticktext=TICK_TEXT,
               ticks="outside", ticklen=6, tickcolor="#000000", tickwidth=1,
               tickfont=BIG, ticklabelstandoff=0,
               minor=dict(dtick=0.1, tick0=0, ticks="outside", ticklen=6, tickcolor="#000000",
                          tickwidth=1, showgrid=False)),
    yaxis=dict(range=[Y_BOT, Y_TOP], visible=False, showgrid=False, zeroline=False),
)

fig.write_html("out.html", config={"displayModeBar": False},
               post_script="document.body.style.margin='0px';")
